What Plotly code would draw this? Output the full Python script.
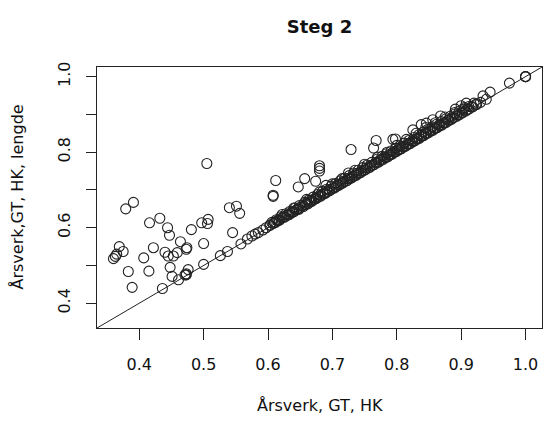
import plotly.graph_objects as go

# Points well above the diagonal
upper_x = [0.505, 0.612, 0.608, 0.608, 0.379, 0.391, 0.540, 0.551, 0.556, 0.416,
           0.432, 0.444, 0.447, 0.497, 0.506, 0.507, 0.481, 0.545, 0.464, 0.500,
           0.369, 0.375, 0.365, 0.360, 0.363, 0.422, 0.440, 0.445, 0.453, 0.459,
           0.473, 0.474, 0.407, 0.383, 0.415, 0.389, 0.448, 0.451, 0.471, 0.476,
           0.473, 0.768, 0.764, 0.729, 0.794, 0.798, 0.680, 0.680, 0.680, 0.657,
           0.674, 0.647, 0.690, 0.725, 0.825, 0.838, 0.846, 0.856, 0.868, 0.891,
           0.900, 0.908, 0.934, 0.945, 0.975]
upper_y = [0.770, 0.725, 0.686, 0.683, 0.650, 0.667, 0.653, 0.657, 0.638, 0.613,
           0.625, 0.600, 0.580, 0.613, 0.611, 0.622, 0.595, 0.587, 0.563, 0.558,
           0.550, 0.537, 0.530, 0.518, 0.524, 0.547, 0.535, 0.525, 0.525, 0.534,
           0.543, 0.547, 0.520, 0.484, 0.485, 0.442, 0.495, 0.471, 0.475, 0.489,
           0.478, 0.831, 0.811, 0.807, 0.834, 0.835, 0.764, 0.757, 0.750, 0.730,
           0.723, 0.708, 0.712, 0.745, 0.859, 0.873, 0.877, 0.886, 0.896, 0.914,
           0.923, 0.930, 0.949, 0.959, 0.983]

# Points lying on / just above the diagonal
diag_x = [0.436, 0.461, 0.473, 0.500, 0.526, 0.537, 0.558, 0.568, 0.575, 0.580,
          0.585, 0.592, 0.597, 0.603, 0.608, 0.612, 0.615, 0.618, 0.622, 0.626,
          0.630, 0.633, 0.637, 0.640, 0.644, 0.648, 0.651, 0.655, 0.658, 0.662,
          0.665, 0.668, 0.672, 0.675, 0.679, 0.682, 0.686, 0.689, 0.692, 0.696,
          0.699, 0.703, 0.706, 0.710, 0.713, 0.716, 0.720, 0.723, 0.727, 0.730,
          0.734, 0.737, 0.741, 0.744, 0.748, 0.751, 0.755, 0.758, 0.762, 0.765,
          0.769, 0.772, 0.776, 0.779, 0.783, 0.786, 0.790, 0.793, 0.797, 0.800,
          0.804, 0.807, 0.811, 0.814, 0.818, 0.821, 0.825, 0.828, 0.832, 0.835,
          0.839, 0.842, 0.846, 0.849, 0.853, 0.856, 0.860, 0.863, 0.867, 0.870,
          0.874, 0.877, 0.881, 0.885, 0.889, 0.893, 0.897, 0.902, 0.907, 0.912,
          0.918, 0.924, 0.930, 0.939, 1.000, 1.000, 1.000]
diag_y = [0.439, 0.462, 0.475, 0.503, 0.526, 0.537, 0.557, 0.570, 0.578, 0.583,
          0.587, 0.594, 0.600, 0.607, 0.611, 0.614, 0.619, 0.620, 0.626, 0.628,
          0.633, 0.635, 0.640, 0.642, 0.647, 0.649, 0.654, 0.656, 0.661, 0.663,
          0.668, 0.670, 0.675, 0.677, 0.682, 0.684, 0.689, 0.691, 0.695, 0.698,
          0.702, 0.705, 0.709, 0.712, 0.716, 0.718, 0.723, 0.725, 0.730, 0.732,
          0.737, 0.739, 0.744, 0.746, 0.751, 0.753, 0.758, 0.760, 0.765, 0.767,
          0.772, 0.774, 0.779, 0.781, 0.786, 0.788, 0.793, 0.795, 0.800, 0.802,
          0.807, 0.809, 0.814, 0.816, 0.821, 0.823, 0.828, 0.830, 0.835, 0.837,
          0.842, 0.844, 0.849, 0.851, 0.856, 0.858, 0.863, 0.865, 0.870, 0.872,
          0.877, 0.879, 0.884, 0.887, 0.892, 0.895, 0.899, 0.904, 0.909, 0.914,
          0.920, 0.926, 0.932, 0.940, 1.000, 1.000, 1.000]

# Dense cluster right on the diagonal
dense_x = [0.603, 0.610, 0.617, 0.624, 0.631, 0.638, 0.646, 0.653, 0.660, 0.667,
           0.674, 0.681, 0.688, 0.695, 0.702, 0.709, 0.717, 0.724, 0.731, 0.738,
           0.745, 0.752, 0.759, 0.767, 0.774, 0.781, 0.788, 0.795, 0.802, 0.809,
           0.817, 0.824, 0.831, 0.838, 0.845, 0.852, 0.859, 0.866, 0.873, 0.880,
           0.887, 0.894, 0.901, 0.909, 0.916, 0.923]
dense_y = [0.606, 0.614, 0.620, 0.629, 0.635, 0.643, 0.650, 0.659, 0.665, 0.673,
           0.679, 0.687, 0.693, 0.701, 0.707, 0.715, 0.722, 0.730, 0.736, 0.744,
           0.750, 0.758, 0.764, 0.773, 0.779, 0.787, 0.793, 0.801, 0.807, 0.815,
           0.822, 0.830, 0.836, 0.844, 0.850, 0.858, 0.864, 0.872, 0.878, 0.885,
           0.891, 0.899, 0.905, 0.913, 0.920, 0.927]

# Extra points filling the thick part of the band
extra_x = [0.606, 0.613, 0.620, 0.628, 0.634, 0.642, 0.649, 0.657, 0.663, 0.670,
           0.677, 0.685, 0.691, 0.698, 0.705, 0.712, 0.719, 0.726, 0.733, 0.740,
           0.747, 0.754, 0.761, 0.770, 0.777, 0.784, 0.791, 0.798, 0.805, 0.812,
           0.819, 0.827, 0.834, 0.841, 0.848, 0.855, 0.862, 0.869, 0.876, 0.883,
           0.890, 0.897, 0.904, 0.912]
extra_y = [0.614, 0.621, 0.629, 0.637, 0.643, 0.652, 0.659, 0.667, 0.673, 0.681,
           0.688, 0.697, 0.702, 0.710, 0.717, 0.724, 0.731, 0.738, 0.745, 0.752,
           0.759, 0.766, 0.773, 0.782, 0.789, 0.796, 0.803, 0.810, 0.817, 0.824,
           0.831, 0.839, 0.846, 0.853, 0.860, 0.867, 0.874, 0.881, 0.888, 0.895,
           0.901, 0.908, 0.914, 0.921]

# Second band slightly above the diagonal
band_x = [0.622, 0.640, 0.660, 0.680, 0.700, 0.715, 0.735, 0.750, 0.770, 0.785,
          0.800, 0.815, 0.830, 0.845, 0.860, 0.875, 0.890, 0.905, 0.920]
band_y = [0.635, 0.652, 0.675, 0.695, 0.716, 0.730, 0.752, 0.768, 0.787, 0.800,
          0.818, 0.834, 0.850, 0.865, 0.878, 0.893, 0.905, 0.918, 0.930]

x_ticks = [0.4, 0.5, 0.6, 0.7, 0.8, 0.9, 1.0]
x_tick_labels = ["0.4", "0.5", "0.6", "0.7", "0.8", "0.9", "1.0"]
y_ticks = [0.4, 0.5, 0.6, 0.7, 0.8, 0.9, 1.0]
y_tick_labels = ["0.4", "", "0.6", "", "0.8", "", "1.0"]
axis_range = [0.3344, 1.0256]

all_x = upper_x + diag_x + dense_x + extra_x + band_x
all_y = upper_y + diag_y + dense_y + extra_y + band_y

FONT = "DejaVu Sans"
INK = "#222222"
TXT = "#111111"

fig = go.Figure()
fig.add_trace(go.Scatter(
    x=all_x, y=all_y, mode="markers",
    marker=dict(symbol="circle-open", size=10, color=INK, line=dict(width=1.1, color=INK)),
    showlegend=False, hoverinfo="skip"))
fig.add_trace(go.Scatter(
    x=axis_range, y=axis_range, mode="lines",
    line=dict(color=INK, width=1), showlegend=False, hoverinfo="skip"))

fig.update_layout(
    width=544, height=421,
    margin=dict(l=97, r=2, t=67, b=93, autoexpand=False),
    paper_bgcolor="white", plot_bgcolor="white",
    font=dict(family=FONT, size=16, color=TXT),
    title=dict(text="<b>Steg 2</b>", x=0.5, xref="paper", xanchor="center",
               y=1 - 27 / 421, yref="container", yanchor="middle",
               font=dict(family=FONT, size=18, color=TXT)),
    annotations=[
        dict(text="Årsverk, GT, HK", x=0.5, xref="paper", y=-(405 - 328) / 261, yref="paper",
             xanchor="center", yanchor="middle", showarrow=False,
             font=dict(family=FONT, size=16, color=TXT)),
        dict(text="Årsverk,GT, HK, lengde", x=(17 - 97) / 445, xref="paper", y=0.5, yref="paper",
             xanchor="center", yanchor="middle", showarrow=False, textangle=-90,
             font=dict(family=FONT, size=16, color=TXT)),
    ],
)
fig.update_xaxes(range=axis_range, tickvals=x_ticks, ticktext=x_tick_labels,
                 ticks="outside", ticklen=11, tickwidth=1, tickcolor=INK,
                 showline=True, mirror=True, linecolor=INK, linewidth=1,
                 showgrid=False, zeroline=False, ticklabelstandoff=11, automargin=False,
                 tickfont=dict(family=FONT, size=16, color=TXT))
fig.update_yaxes(range=axis_range, tickvals=y_ticks, ticktext=y_tick_labels,
                 ticks="outside", ticklen=10, tickwidth=1, tickcolor=INK,
                 showline=True, mirror=True, linecolor=INK, linewidth=1,
                 showgrid=False, zeroline=False, tickangle=-90, ticklabelstandoff=10,
                 automargin=False,
                 tickfont=dict(family=FONT, size=16, color=TXT))

fig.write_html("out.html", config={"displayModeBar": False},
               post_script="document.body.style.margin='0';document.body.style.overflow='hidden';")
